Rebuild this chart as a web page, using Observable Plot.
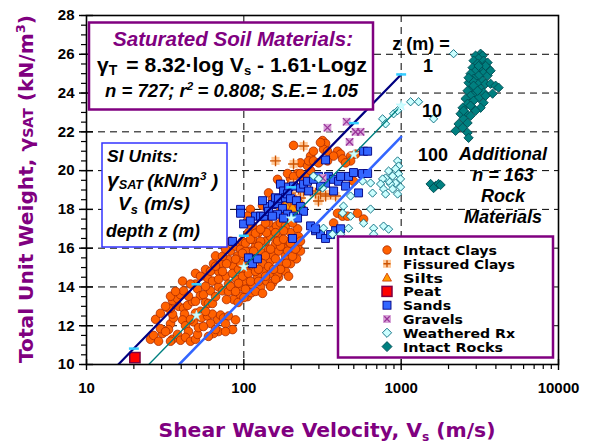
<!DOCTYPE html>
<html><head><meta charset="utf-8">
<script src="https://cdn.jsdelivr.net/npm/d3@7"></script>
<script src="https://cdn.jsdelivr.net/npm/@observablehq/plot@0.6"></script>
<style>
html,body{margin:0;padding:0;background:#fff;}
#wrap{position:relative;width:590px;height:443px;overflow:hidden;}
#wrap svg{position:absolute;left:0;top:0;}
</style></head><body><div id="wrap"></div>
<script>
// ---- data: [Vs (m/s), gamma_sat (kN/m3)] ----
const intactClays = [
[25.5,11.3],[26.7,11.5],[28.7,11.2],[30.4,11.6],[34.2,12.1],[33.2,11.8],[35.7,12.4],[35.2,12.6],[34.2,12.9],[35.2,13.3],[37.9,13.4],[39.6,13.6],[41.4,13.8],[40.8,14.3],[38.5,13.0],[41.4,12.9],[43.9,13.05],[42.0,12.6],[40.8,12.3],[42.6,12.0],[44.5,11.7],[35.2,11.3],[37.9,11.55],[39.6,11.25],[42.6,11.4],[45.8,11.2],[49.3,11.3],[50.8,11.55],[47.9,12.2],[49.3,12.65],[47.2,13.25],[49.3,14.15],[50.8,13.9],[53.0,13.55],[55.4,13.6],[57.1,13.2],[59.6,13.15],[63.2,13.15],[53.0,12.75],[53.8,12.4],[51.5,11.9],[58.8,12.5],[63.2,12.6],[68.1,12.3],[71.1,12.55],[74.3,12.4],[79.9,12.5],[76.5,12.1],[88.6,12.3],[84.8,11.8],[69.1,11.7],[64.2,11.6],[29.5,11.85],[33.2,12.9],[45.8,14.15],[49.3,14.7],[34.2,11.2],
[27.5,12.33],[29.5,12.64],[31.8,13.0],[34.2,13.52],[36.8,13.77],[44.5,13.52],[49.3,13.26],[57.1,12.74],[61.4,12.12],[66.1,11.81],[76.5,11.7],[45.8,12.33],[55.4,11.96],[59.6,11.45],[31.8,11.7],
[57.1,14.9],[58.8,14.45],[64.2,15.2],[66.1,15.6],[69.1,14.8],[71.1,15.2],[76.5,14.55],[79.9,15.4],[82.3,15.85],[86.0,15.05],[88.6,16.1],[91.2,15.6],[95.3,15.95],[99.6,15.2],[102.5,14.8],[63.2,14.3],[69.1,14.0],[73.2,13.8],[79.9,14.15],[84.8,13.8],[89.9,14.4],[95.3,14.0],[101,14.3],[107,13.9],[113.6,14.1],[105.6,13.5],[95.3,13.5],[86.0,13.35],[77.6,13.35],[61.4,13.8],[66.1,13.5],[73.2,14.8],[77.6,15.2],[84.8,14.7],[92.5,14.9],[98.1,14.55],[79.9,13.77],[92,13.2],[100,13.45],[112,13.7],
[53,14.55],[57.1,14.03],[61.4,14.81],[66.1,15.07],[73.2,15.58],[76.5,15.95],[82.3,16.36],[69.1,14.4],
[110.3,15.85],[118.7,16.1],[124,15.45],[131.5,15.75],[137.4,16.35],[143.6,15.95],[147.9,15.35],[154.5,15.6],[159.1,16.2],[166.2,15.85],[171.1,16.5],[178.8,16.1],[184.1,15.6],[192.4,16.35],[198.1,16.8],[204,16.1],[213.2,16.45],[219.5,17.0],[207,15.85],[176.2,15.2],[163.8,14.9],[147.9,14.7],[133.5,14.9],[122.2,14.55],[115.3,15.0],[107,14.7],[127.7,14.0],[139.5,14.3],[152,14.2],[166,14.5],[184,14.8],[198,15.2],[104,15.45],[98,16.35],[107,16.8],[113.6,17.15],[124,16.8],[131.5,17.0],[143.6,17.3],[152,16.9],[161.4,17.15],[171,17.3],[184,17.15],[113.6,16.45],[127.7,16.35],[147.9,16.6],[192.4,17.5],[204,17.3],[222.7,16.6],[229,15.85],[216,15.45],[163.8,14.65],[219.5,16.1],[118.7,15.45],[137,15.6],[131.5,15.2],[159,15.45],[179,16.9],[190,15.85],[118.7,14.8],[143.6,15.05],[110,15.2],[102.5,15.85],[124,16.1],[139.5,16.8],[159,16.8],[171,16.1],
[82.3,14.03],[88.6,13.77],[92.5,14.19],[102.5,13.88],[110.3,14.29],[118.7,13.77],[124,14.29],[131.5,13.67],[137.4,14.55],[147.9,14.03],[159,14.4],[171,14.91],[186.8,15.22],[204,15.58],[192.4,14.55],[95.3,15.22],[88.6,15.43],[102.5,16.26],[110.3,16.46],[118.7,16.77],[127.7,16.98],[137.4,17.29],[147.9,15.95],[163.8,16.36],[178.8,16.46],[198,16.26],[213,15.95],[229,16.36],[154.5,14.91],[124,14.91],[107,15.22],[115.3,15.84],[98,15.74],
[110,18.0],[105.6,17.65],[143.6,18.85],[198,19.6],[219.5,19.85],[239.6,19.45],[254,19.7],[163.8,19.55],[171,19.3],[189.6,19.85],[207,19.7],[229,20.4],[265.5,20.0],[254,20.25],[265.5,20.75],[207,21.3],[316.5,21.55],[330.7,21.4],[321,21.1],[340.5,21.0],[258,20.5],[277,20.5],[298.5,20.4],[340.5,20.5],[394,21.0],[412,20.85],[424,20.6],[477,20.75],[513,20.85],[477,20.5],[372,20.75],[498,19.45],[372,17.3],[394,17.8],[424,17.65],[456,17.65],[528,17.8],[577,17.5],[131.5,18.2],[152,18.5],[179,18.4],[277,21.0],[307,21.45],[443,20.4],[229,19.85]
];
const fissuredClays = [[240,21.27],[159,20.5],[207,20.34],[207,19.31],[223,19.05],[240,18.95],[265,18.95],[286,18.84],[307,18.79],[331,18.69],[356,18.79],[383,18.69],[298,18.43],[229,18.59],[219,18.33],[198,18.84],[190,19.21]];
const silts = [[198,18.33],[213,18.43],[184,18.17],[229,18.27],[166,17.81],[204,18.02]];
const peat = [[20.3,10.36]];
const sands = [
[95.3,18.0],[95.3,17.8],[84.8,16.35],[99.6,17.25],[107,15.5],[113.6,15.2],[122,15.45],[118.7,17.65],[127.7,17.65],[133.5,17.65],[141.5,18.15],[152,18.25],[163.8,18.3],[176,18.05],[171,19.3],[178.8,18.95],[192.4,19.15],[207,19.2],[229,19.1],[239.6,19.3],[254,19.45],[159,18.6],[166,18.55],[184,18.6],[189.6,18.8],[198,18.55],[216,18.45],[229,18.15],[239.6,17.9],[189.6,17.75],[163.8,17.75],[178.8,17.55],[207,17.65],[219.5,17.55],[265.5,17.15],[285.7,16.9],[307,16.7],[330.7,16.5],[356,16.7],[383,16.9],[412,17.0],[204,16.5],[285.7,17.0],[345.6,19.7],[372,19.55],[400,19.45],[412,19.7],[443,19.2],[372,18.95],[330.7,19.35],[307,19.2],[577,21.0],[612,21.0],[568,19.85],[612,19.85],[536,18.85],[330.7,20.55],[463,19.7],[498,19.9],[131.5,18.45],[143.6,17.9],[152,17.65],[110,17.4],[277,19.55],[298.5,19.7],[258,18.95]
];
const gravels = [[450,22.52],[340,22.21],[513,22.0],[552,22.0],[470,21.48],[316.5,19.62]];
const weatheredRx = [
[2153,26.03],[1148,23.55],[1290,23.55],[1607,22.67],[762,22.67],[796,22.41],[895,22.93],[949,23.09],[949,20.5],[963,20.24],[921,20.09],[963,19.83],[991,19.57],[921,19.36],[856,19.31],[832,19.46],[796,19.62],[762,19.57],[740,19.31],[773,19.05],[882,19.05],[949,18.79],[796,18.79],[639,19.36],[658,18.84],[568,19.46],[477,18.69],[430,18.17],[639,18.02],[477,17.65],[577,17.29],[463,17.03],[668,17.03],[773,17.14],[832,16.98],[668,16.72],[412,16.72],[277,19.72],[298.5,19.57],[316.5,19.1],[424,17.81],[321,17.03],[366,16.72],[991,19.15],[832,19.98],[882,19.72]
];
const intactRocks = [
[3198,26.03],[2972,25.93],[3293,25.93],[3105,25.78],[2886,25.67],[3341,25.67],[3542,25.57],[3060,25.52],[2844,25.31],[3198,25.31],[3594,25.26],[2972,25.15],[3341,25.05],[2762,25.0],[3105,24.9],[3542,24.9],[2886,24.74],[3293,24.64],[2682,24.53],[3060,24.48],[3441,24.48],[3701,24.48],[3983,24.38],[4161,24.28],[2844,24.28],[3198,24.22],[2643,24.12],[2972,24.02],[3341,24.02],[3811,23.97],[2762,23.86],[3105,23.76],[2567,23.71],[2886,23.6],[3341,23.5],[2643,23.45],[2457,23.24],[2844,23.24],[3198,23.24],[2972,23.09],[2567,22.98],[2386,22.93],[2762,22.83],[2493,22.67],[2643,22.46],[2317,22.41],[2457,22.21],[2217,22.05],[2643,21.95],[2682,21.69],[2844,24.64],[2886,24.38],[2682,24.79],[3441,25.4],[2762,23.35],[3060,24.12],[3441,23.86],[2493,23.09],[3701,25.15],[3105,25.4],
[1538,19.31],[1655,19.21],[1729,19.31],[1607,19.1],[1780,19.26]
];
// regression lines gamma = 8.32 log Vs - 1.61 log z, tabulated
const lineVs = [10, 20, 50, 100, 200, 500, 1000];
const gammaZ1 = [8.32, 10.82, 14.14, 16.64, 19.14, 22.45, 24.96];
const gammaZ10 = [6.71, 9.21, 12.53, 15.03, 17.53, 20.84, 23.35];
const gammaZ100 = [5.10, 7.60, 10.92, 13.42, 15.92, 19.23, 21.74];
// ticks
const yTicks = [10, 12, 14, 16, 18, 20, 22, 24, 26, 28];
const yGrid = [12, 14, 16, 18, 20, 22, 24, 26];
const xTicks = [10, 100, 1000, 10000];
const xGrid = [100, 1000];
const xMinor = [20,30,40,50,60,70,80,90,200,300,400,500,600,700,800,900,2000,3000,4000,5000,6000,7000,8000,9000];
const yMinor = d3.range(10, 28.01, 0.5);

const lineTable = lineVs.map((v, i) => ({vs: v, g1: gammaZ1[i], g10: gammaZ10[i], g100: gammaZ100[i]}));
const markTable = lineTable.filter(d => d.vs >= 20);

const xy = {x: d => d[0], y: d => d[1]};
const dashSym = {draw(ctx, size) { const w = Math.sqrt(size); ctx.moveTo(-w / 2, 0); ctx.lineTo(w / 2, 0); }};
const tickFont = {fontSize: 15, fontWeight: "bold", fontFamily: "'Liberation Sans', Arial, sans-serif"};
const blank = () => "";

const chart = Plot.plot({
  width: 590, height: 443,
  marginLeft: 86, marginRight: 32, marginTop: 15, marginBottom: 79,
  style: {background: "white", fontFamily: "'Liberation Sans', Arial, sans-serif", color: "black"},
  x: {type: "log", domain: [10, 10000]},
  y: {domain: [10, 28]},
  marks: [
    Plot.gridY(yGrid, {stroke: "#000", strokeOpacity: 1, strokeWidth: 1, strokeDasharray: "7,5"}),
    Plot.gridX(xGrid, {stroke: "#000", strokeOpacity: 1, strokeWidth: 1, strokeDasharray: "7,5"}),
    Plot.dot(intactClays, {...xy, symbol: "circle", r: 4.3, fill: "#ff6100", stroke: "#a82a00", strokeWidth: 0.8}),
    Plot.dot(fissuredClays, {...xy, symbol: "square", r: 4.6, fill: "#ffc999", stroke: "none"}),
    Plot.dot(fissuredClays, {...xy, symbol: "plus", r: 3.6, stroke: "#cc5200", strokeWidth: 1.4}),
    Plot.dot(silts, {...xy, symbol: "triangle", r: 4.2, fill: "#ff9900", stroke: "#cc3300", strokeWidth: 0.8}),
    Plot.dot(peat, {...xy, symbol: "square", r: 5.8, fill: "#ff0000", stroke: "#800040", strokeWidth: 1.5}),
    Plot.dot(sands, {...xy, symbol: "square", r: 4.5, fill: "#3366ff", stroke: "#000080", strokeWidth: 0.9}),
    Plot.dot(gravels, {...xy, symbol: "square", r: 4.4, fill: "#d9a6d9", stroke: "none"}),
    Plot.dot(gravels, {...xy, symbol: "times", r: 3.4, stroke: "#993399", strokeWidth: 1.3}),
    Plot.dot(weatheredRx, {...xy, symbol: "diamond2", r: 3.7, fill: "#ccffff", stroke: "#00667a", strokeWidth: 0.9}),
    Plot.dot(intactRocks, {...xy, symbol: "diamond2", r: 4.2, fill: "#008080", stroke: "#004c52", strokeWidth: 0.9}),
    Plot.line(lineTable, {x: "vs", y: "g100", stroke: "#3366ff", strokeWidth: 2.6, clip: true}),
    Plot.line(lineTable, {x: "vs", y: "g10", stroke: "#008080", strokeWidth: 1.4, clip: true}),
    Plot.line(lineTable, {x: "vs", y: "g1", stroke: "#000080", strokeWidth: 2.2, clip: true}),
    Plot.dot(markTable.filter(d => d.g1 >= 10), {x: "vs", y: "g1", symbol: dashSym, r: 5.6, stroke: "#33ccff", strokeWidth: 2.5}),
    Plot.dot(markTable.filter(d => d.g10 >= 10), {x: "vs", y: "g10", symbol: "star", r: 3.2, fill: "#ccffff", stroke: "#aaf5ff", strokeWidth: 0.5}),
    Plot.frame({stroke: "#000", strokeWidth: 1.6}),
    Plot.axisY(yMinor, {tickSize: 5, tickFormat: blank, label: null, strokeWidth: 1.2}),
    Plot.axisY(yTicks, {tickSize: 7, tickPadding: 5, ...tickFont, label: null, strokeWidth: 1.4}),
    Plot.axisY(yTicks, {tickSize: -7, tickFormat: blank, label: null, strokeWidth: 1.4}),
    Plot.axisX(xMinor, {tickSize: 5, tickFormat: blank, label: null, strokeWidth: 1.2}),
    Plot.axisX(xTicks, {tickSize: 6, tickPadding: 12, ...tickFont, tickFormat: d => String(d), label: null, strokeWidth: 1.4}),
    Plot.axisX(xTicks, {tickSize: -5, tickFormat: blank, label: null, strokeWidth: 1.4})
  ]
});
document.getElementById("wrap").appendChild(chart);

// ---- annotations / legend overlay ----
const purple = "#800080";
const legendItems = ["Intact Clays", "Fissured Clays", "Silts", "Peat", "Sands", "Gravels", "Weathered Rx", "Intact Rocks"];
function legendSymbol(i, cx, cy) {
  switch (i) {
    case 0: return `<circle cx="${cx}" cy="${cy}" r="4.2" fill="#ff6100" stroke="#a82a00" stroke-width="0.8"/>`;
    case 1: return `<rect x="${cx-4}" y="${cy-4}" width="8" height="8" fill="#ffc999"/><path d="M${cx-3.5},${cy}H${cx+3.5}M${cx},${cy-3.5}V${cy+3.5}" stroke="#cc5200" stroke-width="1.4"/>`;
    case 2: return `<path d="M${cx},${cy-4.5}L${cx+4.5},${cy+3.5}L${cx-4.5},${cy+3.5}Z" fill="#ff9900" stroke="#cc3300" stroke-width="0.8"/>`;
    case 3: return `<rect x="${cx-5}" y="${cy-5}" width="10" height="10" fill="#ff0000" stroke="#800040" stroke-width="1.5"/>`;
    case 4: return `<rect x="${cx-4}" y="${cy-4}" width="8" height="8" fill="#3366ff" stroke="#000080" stroke-width="0.9"/>`;
    case 5: return `<rect x="${cx-4}" y="${cy-4}" width="8" height="8" fill="#d9a6d9"/><path d="M${cx-2.7},${cy-2.7}L${cx+2.7},${cy+2.7}M${cx+2.7},${cy-2.7}L${cx-2.7},${cy+2.7}" stroke="#993399" stroke-width="1.3"/>`;
    case 6: return `<path d="M${cx},${cy-4.6}L${cx+4.6},${cy}L${cx},${cy+4.6}L${cx-4.6},${cy}Z" fill="#ccffff" stroke="#00667a" stroke-width="0.9"/>`;
    default: return `<path d="M${cx},${cy-5}L${cx+5},${cy}L${cx},${cy+5}L${cx-5},${cy}Z" fill="#008080" stroke="#004c52" stroke-width="0.9"/>`;
  }
}
const legendWidths = [94, 112, 40, 38, 48, 60, 112, 100];
let legend = "";
legendItems.forEach((t, i) => {
  const cy = 250 + 13.8 * i;
  legend += legendSymbol(i, 387, cy);
  legend += `<text x="403" y="${cy + 5}" font-family="DejaVu Sans, sans-serif" font-weight="bold" font-size="12.5" fill="#000" textLength="${legendWidths[i]}" lengthAdjust="spacingAndGlyphs">${t}</text>`;
});
const LS = "Liberation Sans, Arial, sans-serif";
const overlay = `
<svg width="590" height="443" xmlns="http://www.w3.org/2000/svg" font-family="${LS}">
  <rect x="89" y="22.5" width="284" height="87" fill="#fff" stroke="${purple}" stroke-width="2.5"/>
  <text x="233" y="46" text-anchor="middle" font-size="20" font-weight="bold" font-style="italic" fill="${purple}" textLength="240" lengthAdjust="spacingAndGlyphs">Saturated Soil Materials:</text>
  <text x="97" y="72" font-size="21" font-weight="bold" fill="#000" textLength="270" lengthAdjust="spacingAndGlyphs">γ<tspan font-size="14" dy="3">T</tspan><tspan dy="-3" dx="9">= 8.32·log V</tspan><tspan font-size="13" dy="3">s</tspan><tspan dy="-3"> - 1.61·Logz</tspan></text>
  <text x="105" y="97" font-size="17.5" font-weight="bold" font-style="italic" fill="#000" textLength="253" lengthAdjust="spacingAndGlyphs">n = 727; r<tspan font-size="11" dy="-7">2</tspan><tspan dy="7" dx="4">= 0.808; S.E.= 1.05</tspan></text>

  <rect x="102" y="143" width="125" height="104" fill="#fff" stroke="#3333ff" stroke-width="1.5"/>
  <text x="107" y="162" font-size="17" font-weight="bold" font-style="italic" textLength="71" lengthAdjust="spacingAndGlyphs">SI Units:</text>
  <text x="107" y="187" font-size="18" font-weight="bold" font-style="italic" textLength="111" lengthAdjust="spacingAndGlyphs"><tspan font-size="20">γ</tspan><tspan font-size="12" dy="2">SAT</tspan><tspan dy="-2" dx="4">(kN/m</tspan><tspan font-size="11" dy="-7">3</tspan><tspan dy="7"> )</tspan></text>
  <text x="118" y="210" font-size="18" font-weight="bold" font-style="italic" textLength="72" lengthAdjust="spacingAndGlyphs">V<tspan font-size="12" dy="4">s</tspan><tspan dy="-4" dx="6">(m/s)</tspan></text>
  <text x="106" y="237" font-size="18" font-weight="bold" font-style="italic" textLength="94" lengthAdjust="spacingAndGlyphs">depth z (m)</text>

  <rect x="338" y="236.5" width="215" height="121" fill="#fff" stroke="${purple}" stroke-width="2.5"/>
  ${legend}

  <g font-size="18" font-weight="bold" fill="#000" text-anchor="middle">
    <text x="421" y="50">z (m) =</text>
    <text x="428" y="72">1</text>
    <text x="432" y="117">10</text>
    <text x="433" y="161">100</text>
  </g>
  <g font-size="18" font-weight="bold" font-style="italic" fill="#000" text-anchor="middle">
    <text x="503" y="160">Additional</text>
    <text x="503" y="181">n = 163</text>
    <text x="503" y="202">Rock</text>
    <text x="503" y="223">Materials</text>
  </g>

  <text x="327" y="437" text-anchor="middle" font-family="DejaVu Sans, sans-serif" font-weight="bold" font-size="20" fill="${purple}" textLength="337" lengthAdjust="spacingAndGlyphs">Shear Wave Velocity, V<tspan font-size="12" dy="4">s</tspan><tspan dy="-4"> (m/s)</tspan></text>
  <text transform="translate(33,189) rotate(-90)" text-anchor="middle" font-family="DejaVu Sans, sans-serif" font-weight="bold" font-size="20" fill="${purple}" textLength="348" lengthAdjust="spacingAndGlyphs">Total Unit Weight, γ<tspan font-size="14">SAT</tspan><tspan> (kN/m</tspan><tspan font-size="13" dy="-8">3</tspan><tspan dy="8">)</tspan></text>
</svg>`;
document.getElementById("wrap").insertAdjacentHTML("beforeend", overlay);
</script>
</body></html>
